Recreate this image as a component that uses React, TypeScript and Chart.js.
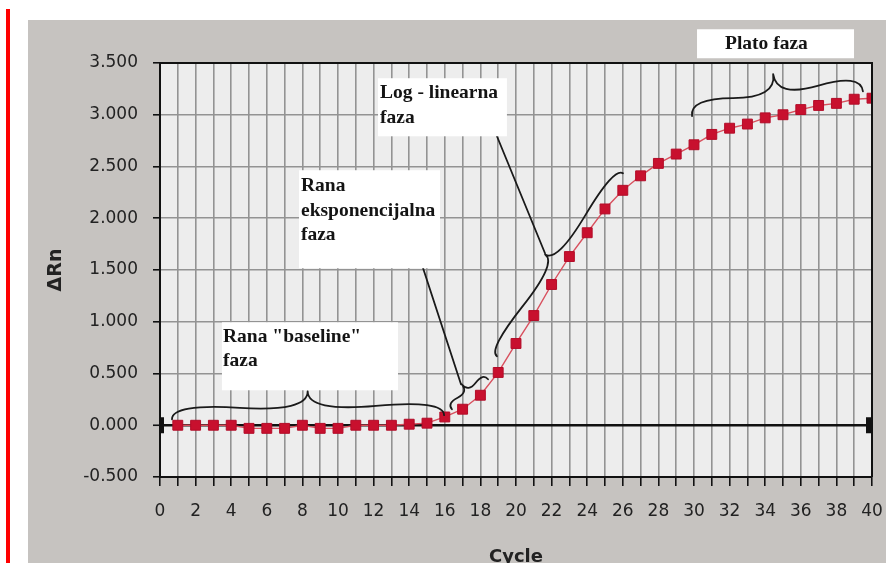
import React, { useEffect, useRef } from 'react';
import { Chart, registerables } from 'chart.js';

Chart.register(...registerables);

// ---- data ----
const cycles = [1, 2, 3, 4, 5, 6, 7, 8, 9, 10, 11, 12, 13, 14, 15, 16, 17, 18, 19, 20,
  21, 22, 23, 24, 25, 26, 27, 28, 29, 30, 31, 32, 33, 34, 35, 36, 37, 38, 39, 40];
const deltaRn = [0.0, 0.0, 0.0, 0.0, -0.03, -0.03, -0.03, 0.0, -0.03, -0.03,
  0.0, 0.0, 0.0, 0.01, 0.02, 0.08, 0.155, 0.29, 0.51, 0.79,
  1.06, 1.36, 1.63, 1.86, 2.09, 2.27, 2.41, 2.53, 2.62, 2.71,
  2.81, 2.87, 2.91, 2.97, 3.0, 3.05, 3.09, 3.11, 3.15, 3.16];
const xMin = 0;
const xMax = 40;
const yMin = -0.5;
const yMax = 3.5;
const yStep = 0.5;
const xTitle = 'Cycle';
const yTitle = 'ΔRn';

// ---- annotations (positions in data units) ----
const labelBoxes = [
  { x1: 30.17, x2: 38.99, y1: 3.826, y2: 3.546, tx: 31.74, lines: ['Plato faza'], ys: [3.633] },
  { x1: 12.25, x2: 19.49, y1: 3.353, y2: 2.792, tx: 12.36, lines: ['Log - linearna', 'faza'], ys: [3.159, 2.918] },
  { x1: 7.81, x2: 15.73, y1: 2.464, y2: 1.517, tx: 7.92, lines: ['Rana', 'eksponencijalna', 'faza'], ys: [2.261, 2.024, 1.787] },
  { x1: 3.48, x2: 13.37, y1: 0.995, y2: 0.338, tx: 3.54, lines: ['Rana "baseline"', 'faza'], ys: [0.802, 0.57] },
];
const braces = [
  { ax: 0.674, ay: 0.058, bx: 15.96, by: 0.097, w: 26 },
  { ax: 16.4, ay: 0.155, bx: 18.43, by: 0.444, w: 13 },
  { ax: 18.93, ay: 0.667, bx: 26.01, by: 2.435, w: 18 },
  { ax: 29.89, ay: 2.986, bx: 39.49, by: 3.227, w: 30 },
];
const pointers = [
  { ax: 18.93, ay: 2.792, bx: 21.63, by: 1.662 },
  { ax: 14.78, ay: 1.517, bx: 16.91, by: 0.396 },
];

const TICK_FONT = '"DejaVu Sans", Verdana, sans-serif';
const NOTE_FONT = 'bold 19.5px "Liberation Serif", "Times New Roman", serif';

function drawBrace(ctx: CanvasRenderingContext2D, A: number[], B: number[], w: number) {
  const q = 0.6;
  let dx = B[0] - A[0];
  let dy = B[1] - A[1];
  const len = Math.sqrt(dx * dx + dy * dy);
  dx /= len; dy /= len;
  let nx = dy, ny = -dx;
  if (ny > 0) { nx = -nx; ny = -ny; }
  const tip = [A[0] + dx * 0.5 * len + nx * w, A[1] + dy * 0.5 * len + ny * w];
  const half = (P: number[], f: number) => {
    const q1 = [P[0] + nx * q * w, P[1] + ny * q * w];
    const m = [A[0] + dx * f * len + nx * (1 - q) * w, A[1] + dy * f * len + ny * (1 - q) * w];
    const c2 = [2 * m[0] - q1[0], 2 * m[1] - q1[1]];
    ctx.moveTo(P[0], P[1]);
    ctx.quadraticCurveTo(q1[0], q1[1], m[0], m[1]);
    ctx.quadraticCurveTo(c2[0], c2[1], tip[0], tip[1]);
  };
  ctx.beginPath();
  half(A, 0.25);
  half(B, 0.75);
  ctx.stroke();
}

const framePlugin = {
  id: 'frame',
  beforeDraw(chart: any) {
    const { ctx, chartArea } = chart;
    ctx.save();
    ctx.fillStyle = '#ffffff';
    ctx.fillRect(0, 0, chart.width, chart.height);
    ctx.fillStyle = '#c6c3c0';
    ctx.fillRect(28, 20, 858, chart.height - 20);
    ctx.fillStyle = '#ff0000';
    ctx.fillRect(6, 9, 4, chart.height - 9);
    ctx.fillStyle = '#ededed';
    ctx.fillRect(chartArea.left, chartArea.top, chartArea.right - chartArea.left, chartArea.bottom - chartArea.top);
    ctx.restore();
  },
  afterDatasetsDraw(chart: any) {
    const { ctx, chartArea, scales } = chart;
    const xs = scales.x, ys = scales.y;
    ctx.save();
    // top / right border
    ctx.strokeStyle = '#111';
    ctx.lineWidth = 2;
    ctx.beginPath();
    ctx.moveTo(chartArea.left, chartArea.top);
    ctx.lineTo(chartArea.right, chartArea.top);
    ctx.lineTo(chartArea.right, chartArea.bottom);
    ctx.stroke();
    // zero-line end caps
    const y0 = ys.getPixelForValue(0);
    ctx.fillStyle = '#111';
    ctx.fillRect(chartArea.left, y0 - 8, 4, 16);
    ctx.fillRect(chartArea.right - 6, y0 - 8, 5, 16);

    const P = (x: number, y: number) => [xs.getPixelForValue(x), ys.getPixelForValue(y)];
    ctx.strokeStyle = '#1a1a1a';
    ctx.lineWidth = 1.8;
    ctx.lineCap = 'round';
    braces.forEach((b) => drawBrace(ctx, P(b.ax, b.ay), P(b.bx, b.by), b.w));
    pointers.forEach((p) => {
      const a = P(p.ax, p.ay), b = P(p.bx, p.by);
      ctx.beginPath();
      ctx.moveTo(a[0], a[1]);
      ctx.lineTo(b[0], b[1]);
      ctx.stroke();
    });
    // label boxes
    labelBoxes.forEach((bx) => {
      const a = P(bx.x1, bx.y1), b = P(bx.x2, bx.y2);
      ctx.fillStyle = '#ffffff';
      ctx.fillRect(a[0], a[1], b[0] - a[0], b[1] - a[1]);
      ctx.fillStyle = '#141414';
      ctx.font = NOTE_FONT;
      ctx.textAlign = 'left';
      ctx.textBaseline = 'alphabetic';
      bx.lines.forEach((t, i) => {
        const p = P(bx.tx, bx.ys[i]);
        ctx.fillText(t, p[0], p[1]);
      });
    });
    ctx.restore();
  },
};

export default function App() {
  const ref = useRef<HTMLCanvasElement>(null);
  useEffect(() => {
    const chart = new Chart(ref.current as HTMLCanvasElement, {
      type: 'line',
      data: {
        datasets: [
          {
            data: cycles.map((c, i) => ({ x: c, y: deltaRn[i] })),
            borderColor: '#d8505e',
            borderWidth: 1.4,
            pointStyle: 'rect',
            pointRadius: 7,
            pointBackgroundColor: '#c8102e',
            pointBorderColor: '#b30c28',
            pointBorderWidth: 1,
            tension: 0,
            clip: 0,
          } as any,
        ],
      },
      options: {
        animation: false,
        responsive: false,
        layout: { padding: { left: 0, top: 63, right: 18, bottom: 0 } },
        plugins: { legend: { display: false }, tooltip: { enabled: false } },
        scales: {
          x: {
            type: 'linear',
            min: xMin,
            max: xMax,
            ticks: {
              stepSize: 1,
              autoSkip: false,
              maxRotation: 0,
              minRotation: 0,
              padding: 15,
              color: '#222',
              font: { family: TICK_FONT, size: 17 },
              callback: (v: any) => (Number(v) % 2 === 0 ? String(v) : ''),
            },
            grid: { color: '#939393', lineWidth: 1.6, tickColor: '#111', tickLength: 9, tickWidth: 1.6 },
            border: { color: '#111', width: 2 },
            title: {
              display: true,
              text: xTitle,
              color: '#222',
              font: { family: TICK_FONT, size: 18, weight: 'bold' },
              padding: { top: 0, bottom: 2 },
            },
            afterFit: (s: any) => { s.height = 93; s.paddingRight = 11; s.paddingLeft = 6; },
          },
          y: {
            type: 'linear',
            min: yMin,
            max: yMax,
            ticks: {
              stepSize: yStep,
              padding: 15,
              color: '#222',
              font: { family: TICK_FONT, size: 17 },
              callback: (v: any) => Number(v).toFixed(3),
            },
            grid: {
              color: (c: any) => (c.tick && c.tick.value === 0 ? '#111' : '#939393'),
              lineWidth: (c: any) => (c.tick && c.tick.value === 0 ? 2.5 : 1.6),
              tickColor: '#111',
              tickLength: 7,
              tickWidth: 1.6,
            },
            border: { color: '#111', width: 2 },
            title: {
              display: true,
              text: yTitle,
              color: '#222',
              font: { family: TICK_FONT, size: 19, weight: 'bold' },
              padding: { top: 45, bottom: 0 },
            },
            afterFit: (s: any) => { s.width = 160; },
          },
        },
      } as any,
      plugins: [framePlugin],
    });
    return () => chart.destroy();
  }, []);
  return (
    <div style={{ position: 'fixed', left: 0, top: 0, width: 890, height: 563, overflow: 'hidden', background: '#fff' }}>
      <canvas ref={ref} width={890} height={570} style={{ display: 'block' }} />
    </div>
  );
}
